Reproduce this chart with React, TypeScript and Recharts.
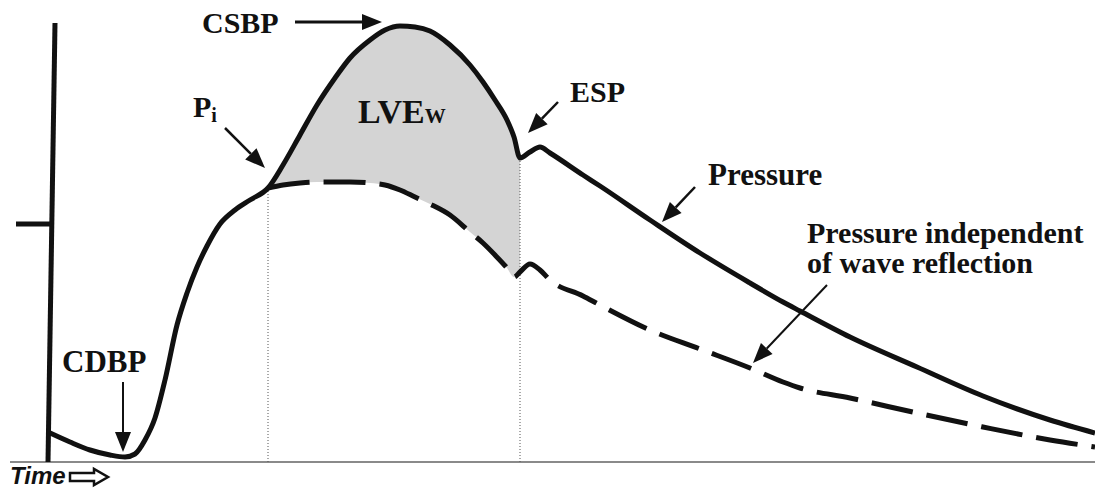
import { ComposedChart, Line, Area, XAxis, YAxis, ReferenceLine, ReferenceDot } from 'recharts'

// time axis (arbitrary units, left to right)
const times = [
  50, 70, 90, 110, 125, 135, 145, 155, 165, 177, 187, 197, 207, 220, 235, 250,
  268, 283, 300, 317, 335, 350, 370, 385, 400, 415, 430, 450, 470, 483, 495, 507,
  514, 520, 530, 540, 550, 583, 600, 650, 700, 750, 783, 800, 850, 917, 983, 1050, 1095,
]

// measured aortic pressure (solid)
const pressure = [
  29, 20, 12, 7, 5, 8, 22, 44, 82, 137, 169, 195, 216, 238, 252, 262,
  274, 297, 327, 357, 384, 404, 422, 432, 436, 435, 431, 417, 397, 380, 362, 342,
  325, 304, 310, 315, 309, 287, 276, 242, 209, 179, 160, 151, 125, 95, 66, 42, 29,
]

// pressure independent of wave reflection (dashed), splits off at Pi
const forwardPressure = [
  null, null, null, null, null, null, null, null, null, null, null, null, null, null, null, null,
  274, 277, 279, 280, 280, 280, 279, 277, 272, 265, 258, 247, 230, 219, 207, 194,
  185, 190, 198, 192, 182, 166, 157, 132, 113, 94, 80, 74, 64, 49, 35, 22, 15,
]

const PI_TIME = 268
const ESP_TIME = 520

const data = times.map((t, i) => ({
  t,
  p: pressure[i],
  f: forwardPressure[i],
  band: t >= PI_TIME && t <= ESP_TIME ? [forwardPressure[i], pressure[i]] : null,
}))

const INK = '#111'
const SERIF = '"Liberation Serif", "Times New Roman", serif'

const arrow = (width: number) => (props: any) => {
  const { x1, y1, x2, y2 } = props
  const dx = x2 - x1
  const dy = y2 - y1
  const len = Math.hypot(dx, dy) || 1
  const ux = dx / len
  const uy = dy / len
  const head = 20
  const half = 8
  const bx = x2 - ux * head
  const by = y2 - uy * head
  return (
    <g>
      <line x1={x1} y1={y1} x2={bx} y2={by} stroke={INK} strokeWidth={width} />
      <polygon
        points={`${x2},${y2} ${bx - uy * half},${by + ux * half} ${bx + uy * half},${by - ux * half}`}
        fill={INK}
      />
    </g>
  )
}

const label = (text: string, sub?: string, size = 30, subSize = 20, subDy = 5) => (props: any) => (
  <text x={props.cx} y={props.cy} fontFamily={SERIF} fontWeight="bold" fontSize={size} fill={INK}>
    {text}
    {sub && (
      <tspan fontSize={subSize} dy={subDy}>
        {sub}
      </tspan>
    )}
  </text>
)

const timeArrow = (props: any) => {
  const { cx, cy } = props
  const d = `M${cx},${cy - 4} L${cx + 24},${cy - 4} L${cx + 24},${cy - 8} L${cx + 38},${cy} L${cx + 24},${cy + 8} L${cx + 24},${cy + 4} L${cx},${cy + 4} Z`
  return <path d={d} fill="#fff" stroke={INK} strokeWidth={2.5} strokeLinejoin="miter" />
}

export default function App() {
  return (
    <div style={{ position: 'absolute', left: 0, top: 0, width: 1095, height: 488, background: '#fff' }}>
      <ComposedChart width={1095} height={488} data={data} margin={{ top: 0, right: 0, bottom: 0, left: 0 }}>
        <XAxis dataKey="t" type="number" domain={[0, 1095]} allowDataOverflow hide />
        <YAxis type="number" domain={[-26, 462]} allowDataOverflow hide />

        {/* wave reflection work area */}
        <Area
          dataKey="band"
          type="monotone"
          fill="#d4d4d4"
          fillOpacity={1}
          stroke="none"
          dot={false}
          activeDot={false}
          isAnimationActive={false}
        />

        {/* axes */}
        <ReferenceLine segment={[{ x: 10, y: 0 }, { x: 1095, y: 0 }]} stroke="#8a8a8a" strokeWidth={2} ifOverflow="visible" />
        <ReferenceLine segment={[{ x: 55, y: 439 }, { x: 48, y: 0 }]} stroke={INK} strokeWidth={5} ifOverflow="visible" />
        <ReferenceLine segment={[{ x: 16, y: 238 }, { x: 52, y: 238 }]} stroke={INK} strokeWidth={5} ifOverflow="visible" />

        {/* dotted markers at Pi and ESP */}
        <ReferenceLine segment={[{ x: PI_TIME, y: 274 }, { x: PI_TIME, y: 0 }]} stroke="#555" strokeWidth={1} strokeDasharray="1 2" />
        <ReferenceLine segment={[{ x: ESP_TIME, y: 304 }, { x: ESP_TIME, y: 0 }]} stroke="#555" strokeWidth={1} strokeDasharray="1 2" />

        <Line dataKey="f" type="monotone" stroke={INK} strokeWidth={5} strokeDasharray="42 14" dot={false} activeDot={false} isAnimationActive={false} />
        <Line dataKey="p" type="monotone" stroke={INK} strokeWidth={5} dot={false} activeDot={false} isAnimationActive={false} />

        {/* annotations */}
        <ReferenceLine segment={[{ x: 295, y: 440 }, { x: 382, y: 440 }]} shape={arrow(3)} />
        <ReferenceLine segment={[{ x: 225, y: 334 }, { x: 265, y: 294 }]} shape={arrow(2.5)} />
        <ReferenceLine segment={[{ x: 558, y: 360 }, { x: 528, y: 329 }]} shape={arrow(2.5)} />
        <ReferenceLine segment={[{ x: 695, y: 275 }, { x: 662, y: 240 }]} shape={arrow(2.5)} />
        <ReferenceLine segment={[{ x: 827, y: 177 }, { x: 753, y: 99 }]} shape={arrow(2)} />
        <ReferenceLine segment={[{ x: 123, y: 80 }, { x: 123, y: 10 }]} shape={arrow(2)} />

        <ReferenceDot x={202} y={429} shape={label('CSBP')} />
        <ReferenceDot x={193} y={345} shape={label('P', 'i')} />
        <ReferenceDot x={358} y={339} shape={label('LVE', 'W', 34, 21, 0)} />
        <ReferenceDot x={570} y={360} shape={label('ESP')} />
        <ReferenceDot x={708} y={277} shape={label('Pressure', undefined, 31)} />
        <ReferenceDot x={807} y={219} shape={label('Pressure independent')} />
        <ReferenceDot x={807} y={189} shape={label('of wave reflection')} />
        <ReferenceDot x={62} y={90} shape={label('CDBP', undefined, 31)} />

        <ReferenceDot
          x={10}
          y={-22}
          ifOverflow="visible"
          shape={(p: any) => (
            <text x={p.cx} y={p.cy} fontFamily='"Liberation Sans", Arial, sans-serif' fontWeight="bold" fontStyle="italic" fontSize={24} fill={INK}>
              Time
            </text>
          )}
        />
        <ReferenceDot x={70} y={-15} ifOverflow="visible" shape={timeArrow} />
      </ComposedChart>
    </div>
  )
}
